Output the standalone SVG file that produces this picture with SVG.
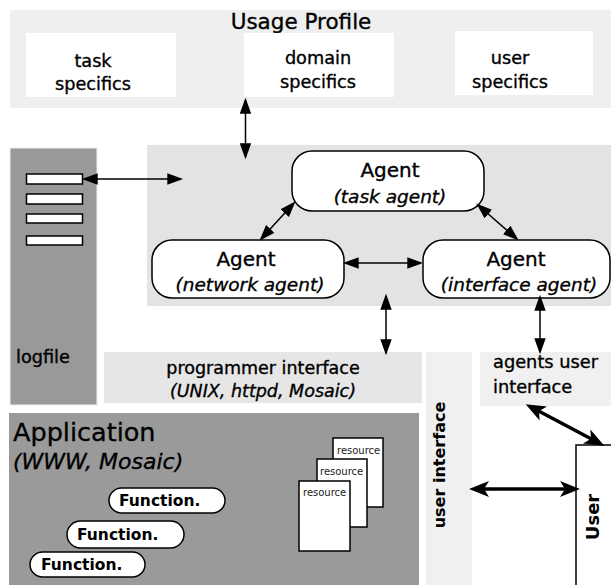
<svg xmlns="http://www.w3.org/2000/svg" width="611" height="585" viewBox="0 0 611 585">
<style>
text{font-family:"DejaVu Sans","Liberation Sans",sans-serif;fill:#000;stroke:#000;stroke-width:0.35}
.lbl{font-size:17.7px}
.mid{text-anchor:middle}
.it{font-style:italic}
.b{font-weight:bold;stroke-width:0}
.node{fill:#fff;stroke:#000;stroke-width:1.5}
.con{fill:none;stroke:#000;stroke-width:1.5;marker-start:url(#ah);marker-end:url(#ah)}
.thick{fill:none;stroke:#000;stroke-width:3.5;marker-start:url(#ahb);marker-end:url(#ahb)}
.res{font-size:10px;fill:#222;stroke-width:0}
</style>
<defs>
<marker id="ah" markerUnits="userSpaceOnUse" markerWidth="16" markerHeight="12" viewBox="0 0 14 10" refX="12" refY="5" orient="auto-start-reverse">
<path d="M0,0 L14,5 L0,10 z" fill="#000"/>
</marker>
<marker id="ahb" markerUnits="userSpaceOnUse" markerWidth="20" markerHeight="16" viewBox="0 0 20 16" refX="14" refY="8" orient="auto-start-reverse">
<path d="M0,0 L20,8 L0,16 L5,8 z" fill="#000"/>
</marker>
</defs>
<rect width="611" height="585" fill="#fff"/>

<g id="usage-profile">
<rect x="10" y="10" width="601" height="98" fill="#efefef"/>
<text x="301" y="29" class="mid" font-size="21.5">Usage Profile</text>
</g>
<g id="task-specifics">
<rect x="26" y="33" width="150" height="64" fill="#fff"/>
<text x="93" y="67" class="lbl mid">task</text>
<text x="93" y="90" class="lbl mid">specifics</text>
</g>
<g id="domain-specifics">
<rect x="244" y="33" width="150" height="64" fill="#fff"/>
<text x="318" y="64" class="lbl mid">domain</text>
<text x="318" y="88" class="lbl mid">specifics</text>
</g>
<g id="user-specifics">
<rect x="455" y="31" width="138" height="64" fill="#fff"/>
<text x="510" y="64" class="lbl mid">user</text>
<text x="510" y="88" class="lbl mid">specifics</text>
</g>

<g id="agent-area">
<rect x="147" y="145" width="464" height="161" fill="#e3e3e3"/>
</g>

<g id="logfile">
<rect x="10" y="148" width="87" height="257" fill="#999" stroke="#eee" stroke-width="1"/>
<rect x="26.5" y="174" width="56" height="10" class="node"/>
<rect x="26.5" y="194" width="56" height="10" class="node"/>
<rect x="26.5" y="214" width="56" height="9" class="node"/>
<rect x="26.5" y="236" width="56" height="9" class="node"/>
<text x="16" y="363" class="lbl">logfile</text>
</g>

<g id="programmer-interface">
<rect x="104" y="352" width="318" height="51" fill="#e6e6e6"/>
<text x="263" y="374" class="mid" font-size="17.5">programmer interface</text>
<text x="263" y="397" class="mid it" font-size="17.5">(UNIX, httpd, Mosaic)</text>
</g>

<g id="user-interface">
<rect x="426" y="352" width="46" height="233" fill="#f0f0f0"/>
<text transform="translate(445,465) rotate(-90)" class="mid b" font-size="16">user interface</text>
</g>

<g id="agents-user-interface">
<rect x="480" y="352" width="131" height="54" fill="#f0f0f0"/>
<text x="493" y="368" font-size="17.8">agents user</text>
<text x="493" y="393" font-size="17.8">interface</text>
</g>

<g id="application">
<rect x="9" y="413" width="410" height="172" fill="#9a9a9a"/>
<text x="13" y="441" font-size="25.5">Application</text>
<text x="13" y="469" class="it" font-size="22">(WWW, Mosaic)</text>
</g>

<g id="function-1">
<rect x="109" y="488" width="116" height="25" rx="12.5" class="node"/>
<text x="119" y="506" class="b" font-size="15.5">Function.</text>
</g>
<g id="function-2">
<rect x="67" y="521" width="117" height="27" rx="13.5" class="node"/>
<text x="77" y="540" class="b" font-size="15.5">Function.</text>
</g>
<g id="function-3">
<rect x="30" y="552" width="115" height="25" rx="12.5" class="node"/>
<text x="41" y="570" class="b" font-size="15.5">Function.</text>
</g>

<g id="resource-1">
<rect x="333" y="438" width="50" height="69" class="node"/>
<text x="337" y="454" class="res">resource</text>
</g>
<g id="resource-2">
<rect x="317" y="459" width="50" height="68" class="node"/>
<text x="320" y="475" class="res">resource</text>
</g>
<g id="resource-3">
<rect x="299" y="481" width="51" height="70" class="node"/>
<text x="303" y="496" class="res">resource</text>
</g>

<g id="task-agent">
<rect x="292" y="151" width="192" height="60" rx="20" class="node"/>
<text x="390" y="177" class="mid" font-size="20">Agent</text>
<text x="390" y="203" class="mid it" font-size="18.5">(task agent)</text>
</g>
<g id="network-agent">
<rect x="152" y="240" width="192" height="58" rx="20" class="node"/>
<text x="246" y="266" class="mid" font-size="20">Agent</text>
<text x="250" y="291" class="mid it" font-size="18.5">(network agent)</text>
</g>
<g id="interface-agent">
<rect x="423" y="240" width="187" height="58" rx="20" class="node"/>
<text x="516" y="266" class="mid" font-size="20">Agent</text>
<text x="519" y="291" class="mid it" font-size="18.5">(interface agent)</text>
</g>

<g id="user">
<rect x="576" y="445" width="40" height="145" class="node"/>
<text transform="translate(599,517) rotate(-90)" class="mid b" font-size="18">User</text>
</g>

<g id="connectors">
<line x1="245.5" y1="100" x2="245.5" y2="157" class="con"/>
<line x1="84" y1="179" x2="181" y2="179" class="con"/>
<line x1="261" y1="239" x2="294" y2="203" class="con"/>
<line x1="478" y1="205" x2="517" y2="239" class="con"/>
<line x1="345" y1="263" x2="421" y2="263" class="con"/>
<line x1="386" y1="296" x2="386" y2="353" class="con"/>
<line x1="540" y1="297" x2="540" y2="352" class="con"/>
<line x1="531" y1="407" x2="599" y2="443" class="thick"/>
<line x1="475" y1="489" x2="574" y2="489" class="thick"/>
</g>
</svg>
